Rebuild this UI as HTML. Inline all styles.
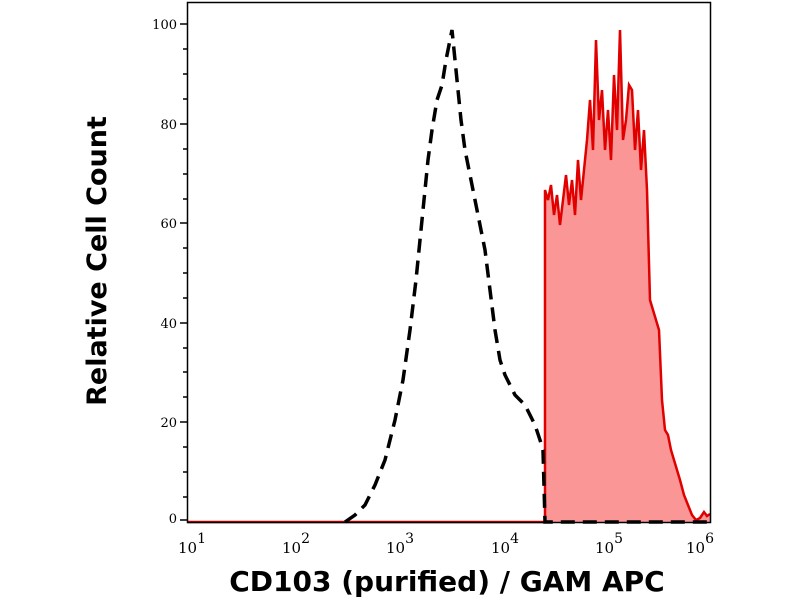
<!DOCTYPE html>
<html><head><style>body{margin:0;background:#fff}svg{display:block}</style></head><body>
<svg width="800" height="600" viewBox="0 0 800 600" xmlns="http://www.w3.org/2000/svg">
<rect x="0" y="0" width="800" height="600" fill="#fff"/>
<polygon fill="#fa9696" stroke="none" points="545,522 545,190 548,200 551,185 554,215 557,195 560,225 563,200 566,175 569,205 572,180 575,215 578,160 581,200 584,170 587,140 590,100 593,150 596,40 599,120 602,90 605,150 608,110 611,160 614,75 617,130 620,30 623,140 626,120 629,85 632,90 635,150 638,110 641,170 644,130 647,190 650,300 653,310 656,320 659,330 662,400 665,430 668,435 671,450 674,460 677,470 680,480 684,495 688,505 692,515 696,520 700,518 704,512 707,516 710,514 710,522"/>
<polyline fill="none" stroke="#e00000" stroke-width="2.5" points="188,522 545,522 545,190 548,200 551,185 554,215 557,195 560,225 563,200 566,175 569,205 572,180 575,215 578,160 581,200 584,170 587,140 590,100 593,150 596,40 599,120 602,90 605,150 608,110 611,160 614,75 617,130 620,30 623,140 626,120 629,85 632,90 635,150 638,110 641,170 644,130 647,190 650,300 653,310 656,320 659,330 662,400 665,430 668,435 671,450 674,460 677,470 680,480 684,495 688,505 692,515 696,520 700,518 704,512 707,516 710,514"/>
<polyline fill="none" stroke="#000" stroke-width="3.5" stroke-dasharray="14,8" points="345,522 355,515 365,505 375,485 385,460 395,420 403,380 410,330 416,280 422,220 428,160 432,130 437,100 442,85 446,60 449,45 452,30 455,60 458,90 461,120 465,150 470,175 475,200 480,225 485,250 490,290 495,330 500,360 505,375 510,385 515,395 520,400 525,405 530,415 535,425 540,440 543,450 545,522 710,522"/>
<rect x="187.5" y="2.5" width="523" height="520" fill="none" stroke="#000" stroke-width="1.5"/>
<g stroke="#000" stroke-width="1.5">
<line x1="180" y1="24" x2="187" y2="24"/><line x1="180" y1="124" x2="187" y2="124"/><line x1="180" y1="223" x2="187" y2="223"/><line x1="180" y1="323" x2="187" y2="323"/><line x1="180" y1="422" x2="187" y2="422"/><line x1="180" y1="520" x2="187" y2="520"/>
<line x1="183" y1="74" x2="187" y2="74"/><line x1="183" y1="174" x2="187" y2="174"/><line x1="183" y1="273" x2="187" y2="273"/><line x1="183" y1="372" x2="187" y2="372"/><line x1="183" y1="472" x2="187" y2="472"/>
<line x1="183" y1="49" x2="187" y2="49"/><line x1="183" y1="99" x2="187" y2="99"/><line x1="183" y1="149" x2="187" y2="149"/><line x1="183" y1="199" x2="187" y2="199"/><line x1="183" y1="248" x2="187" y2="248"/><line x1="183" y1="298" x2="187" y2="298"/><line x1="183" y1="348" x2="187" y2="348"/><line x1="183" y1="397" x2="187" y2="397"/><line x1="183" y1="447" x2="187" y2="447"/><line x1="183" y1="497" x2="187" y2="497"/>
</g>
<g id="xt" stroke="#000" stroke-width="1.5"></g>
<g font-family="DejaVu Serif, serif" font-size="13" fill="#000" text-anchor="end">
<text x="177" y="29">100</text><text x="177" y="129">80</text><text x="177" y="228">60</text><text x="177" y="328">40</text><text x="177" y="427">20</text><text x="177" y="523">0</text>
</g>
<g font-family="DejaVu Serif, serif" font-size="15" fill="#000" text-anchor="middle">
<text x="192" y="553">10<tspan dy="-10" font-size="14">1</tspan></text>
<text x="296" y="553">10<tspan dy="-10" font-size="14">2</tspan></text>
<text x="400" y="553">10<tspan dy="-10" font-size="14">3</tspan></text>
<text x="505" y="553">10<tspan dy="-10" font-size="14">4</tspan></text>
<text x="609" y="553">10<tspan dy="-10" font-size="14">5</tspan></text>
<text x="700" y="553">10<tspan dy="-10" font-size="14">6</tspan></text>
</g>
<text x="447" y="591" font-family="DejaVu Sans, sans-serif" font-weight="bold" font-size="28" text-anchor="middle">CD103 (purified) / GAM APC</text>
<text transform="translate(106,261) rotate(-90)" font-family="DejaVu Sans, sans-serif" font-weight="bold" font-size="27" text-anchor="middle">Relative Cell Count</text>
<script>
var g=document.getElementById('xt'),s='';
for(var d=0;d<6;d++){for(var k=1;k<10;k++){var x=188+104.6*(d+Math.log10(k));if(x>711)break;var l=k==1?8:4;s+='<line x1="'+x+'" y1="523" x2="'+x+'" y2="'+(523+l)+'"/>';}}
s+='<line x1="711" y1="523" x2="711" y2="531"/>';
g.innerHTML=s;
</script>
</svg>
</body></html>
